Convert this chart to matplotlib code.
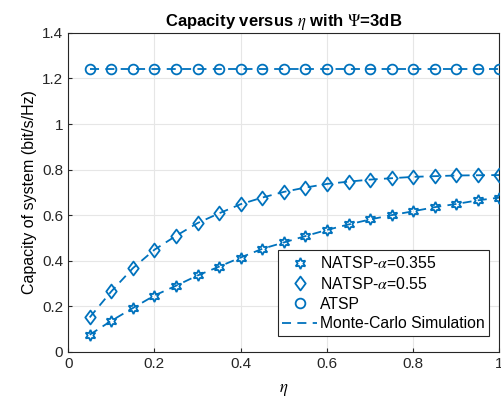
import numpy as np
import matplotlib.pyplot as plt
from matplotlib.path import Path

plt.rcParams['font.family'] = ['Liberation Sans', 'DejaVu Sans']
plt.rcParams['mathtext.fontset'] = 'stix'

# data
eta = [0.05, 0.10, 0.15, 0.20, 0.25, 0.30, 0.35, 0.40, 0.45, 0.50,
       0.55, 0.60, 0.65, 0.70, 0.75, 0.80, 0.85, 0.90, 0.95, 1.00]
natsp_0355 = [0.075, 0.136, 0.192, 0.247, 0.290, 0.335, 0.374, 0.414, 0.452, 0.480,
              0.508, 0.535, 0.559, 0.581, 0.600, 0.617, 0.635, 0.649, 0.665, 0.677]
natsp_055 = [0.151, 0.265, 0.367, 0.448, 0.509, 0.565, 0.608, 0.648, 0.677, 0.702,
             0.721, 0.737, 0.747, 0.756, 0.762, 0.768, 0.771, 0.774, 0.775, 0.776]
atsp = [1.24] * len(eta)

c = '#0072BD'
hexagram = (6, 1, 0)
# matlab-like diamond (a bit wider than matplotlib's thin diamond)
diamond = Path([(0, 1), (0.75, 0), (0, -1), (-0.75, 0), (0, 1)],
               [Path.MOVETO, Path.LINETO, Path.LINETO, Path.LINETO, Path.CLOSEPOLY])

fig = plt.figure(figsize=(5.01, 4.11), dpi=100)
ax = fig.add_axes([0.136, 0.144, 0.861, 0.776])

# simulation curves (dashed)
sim = None
for y in (natsp_0355, natsp_055, atsp):
    sim, = ax.plot(eta, y, color=c, linestyle=(0, (5, 3.5)), linewidth=1.3, zorder=2)

# analytical markers
h1, = ax.plot(eta, natsp_0355, linestyle='none', marker=hexagram, markersize=8,
              markerfacecolor='none', markeredgecolor=c, markeredgewidth=1.3, zorder=3)
h2, = ax.plot(eta, natsp_055, linestyle='none', marker=diamond, markersize=10,
              markerfacecolor='none', markeredgecolor=c, markeredgewidth=1.3, zorder=3)
h3, = ax.plot(eta, atsp, linestyle='none', marker='o', markersize=7,
              markerfacecolor='none', markeredgecolor=c, markeredgewidth=1.3, zorder=3)

ax.set_xlim(0, 1)
ax.set_ylim(0, 1.4)
ax.set_xticks([0, 0.2, 0.4, 0.6, 0.8, 1])
ax.set_xticklabels(['0', '0.2', '0.4', '0.6', '0.8', '1'])
ax.set_yticks([0, 0.2, 0.4, 0.6, 0.8, 1, 1.2, 1.4])
ax.set_yticklabels(['0', '0.2', '0.4', '0.6', '0.8', '1', '1.2', '1.4'])
ax.tick_params(labelsize=11, direction='in', length=3, colors='#262626')
ax.grid(True, color='#e6e6e6', linewidth=0.8)
ax.set_axisbelow(True)
for s in ax.spines.values():
    s.set_color('#262626')
    s.set_linewidth(0.8)

ax.set_title(r'Capacity versus $\eta$ with $\Psi$=3dB', fontsize=12, fontweight='bold', pad=5)
ax.set_xlabel(r'$\eta$', fontsize=12, labelpad=8)
ax.set_ylabel('Capacity of system (bit/s/Hz)', fontsize=11.5)

leg = ax.legend([h1, h2, h3, sim],
                [r'NATSP-$\alpha$=0.355', r'NATSP-$\alpha$=0.55', 'ATSP', 'Monte-Carlo Simulation'],
                loc='lower right', bbox_to_anchor=(0.995, 0.025), fontsize=11.3,
                fancybox=False, framealpha=1, edgecolor='#262626',
                handlelength=2.2, handletextpad=0.2, borderpad=0.3, labelspacing=0.3)
leg.get_frame().set_linewidth(0.8)

fig.savefig('out.png', dpi=100)
